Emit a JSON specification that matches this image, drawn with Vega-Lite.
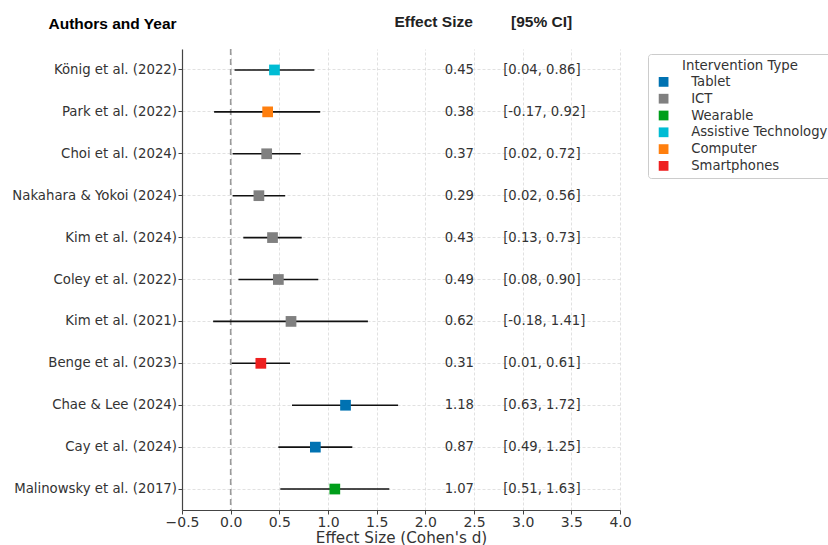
{
  "$schema": "https://vega.github.io/schema/vega-lite/v6.json",
  "autosize": {"type": "none"},
  "padding": {"left": 182, "top": 49, "right": 208, "bottom": 35},
  "width": 438,
  "height": 461,
  "background": "white",
  "config": {
    "font": "DejaVu Sans",
    "view": {"stroke": null},
    "axis": {"labelFont": "DejaVu Sans", "titleFont": "DejaVu Sans", "labelColor": "#333", "titleColor": "#333", "domainColor": "#444", "tickColor": "#444", "gridColor": "#d9d9d9", "gridDash": [3, 2], "gridWidth": 0.8}
  },
  "data": {"values": [
    {"study": "König et al. (2022)", "d": 0.45, "lo": 0.04, "hi": 0.86, "es": "0.45", "ci": "[0.04, 0.86]", "type": "Assistive Technology"},
    {"study": "Park et al. (2022)", "d": 0.38, "lo": -0.17, "hi": 0.92, "es": "0.38", "ci": "[-0.17, 0.92]", "type": "Computer"},
    {"study": "Choi et al. (2024)", "d": 0.37, "lo": 0.02, "hi": 0.72, "es": "0.37", "ci": "[0.02, 0.72]", "type": "ICT"},
    {"study": "Nakahara & Yokoi (2024)", "d": 0.29, "lo": 0.02, "hi": 0.56, "es": "0.29", "ci": "[0.02, 0.56]", "type": "ICT"},
    {"study": "Kim et al. (2024)", "d": 0.43, "lo": 0.13, "hi": 0.73, "es": "0.43", "ci": "[0.13, 0.73]", "type": "ICT"},
    {"study": "Coley et al. (2022)", "d": 0.49, "lo": 0.08, "hi": 0.90, "es": "0.49", "ci": "[0.08, 0.90]", "type": "ICT"},
    {"study": "Kim et al. (2021)", "d": 0.62, "lo": -0.18, "hi": 1.41, "es": "0.62", "ci": "[-0.18, 1.41]", "type": "ICT"},
    {"study": "Benge et al. (2023)", "d": 0.31, "lo": 0.01, "hi": 0.61, "es": "0.31", "ci": "[0.01, 0.61]", "type": "Smartphones"},
    {"study": "Chae & Lee (2024)", "d": 1.18, "lo": 0.63, "hi": 1.72, "es": "1.18", "ci": "[0.63, 1.72]", "type": "Tablet"},
    {"study": "Cay et al. (2024)", "d": 0.87, "lo": 0.49, "hi": 1.25, "es": "0.87", "ci": "[0.49, 1.25]", "type": "Tablet"},
    {"study": "Malinowsky et al. (2017)", "d": 1.07, "lo": 0.51, "hi": 1.63, "es": "1.07", "ci": "[0.51, 1.63]", "type": "Wearable"}
  ]},
  "encoding": {
    "y": {"field": "study", "type": "nominal", "sort": null,
      "scale": {"type": "band", "paddingInner": 0, "paddingOuter": 0},
      "axis": {"title": "Authors and Year", "titleAngle": 0, "titleAlign": "left", "titleBaseline": "middle", "titleX": -134, "titleY": -26, "titleFontSize": 15.5, "titleFontWeight": "bold", "titleColor": "#000", "titleFont": "Liberation Sans", "labelFontSize": 13.3, "labelPadding": 1.5, "tickSize": 4, "grid": true, "domainWidth": 1.2}
    }
  },
  "layer": [
    {
      "mark": {"type": "rule", "color": "#999", "strokeDash": [6, 4], "strokeWidth": 1.6},
      "data": {"values": [{"z": 0}]},
      "encoding": {
        "x": {"field": "z", "type": "quantitative", "scale": {"domain": [-0.5, 4.0], "nice": false, "zero": false},
          "axis": {"orient": "bottom", "title": "Effect Size (Cohen's d)", "titleFontSize": 15.2, "titleFontWeight": "normal", "titlePadding": 1, "labelFontSize": 14, "labelOverlap": false, "labelFlush": false, "labelBound": false, "format": ".1f", "values": [-0.5, 0, 0.5, 1, 1.5, 2, 2.5, 3, 3.5, 4], "tickSize": 4, "labelPadding": 1, "grid": true, "domainWidth": 1.2}},
        "y": null
      }
    },
    {
      "mark": {"type": "rule", "color": "#111", "strokeWidth": 1.6},
      "encoding": {
        "x": {"field": "lo", "type": "quantitative", "axis": null},
        "x2": {"field": "hi"}
      }
    },
    {
      "mark": {"type": "square", "size": 115, "opacity": 1, "filled": true},
      "encoding": {
        "x": {"field": "d", "type": "quantitative", "axis": null},
        "color": {"field": "type", "type": "nominal",
          "scale": {"domain": ["Tablet", "ICT", "Wearable", "Assistive Technology", "Computer", "Smartphones"], "range": ["#0072b2", "#808080", "#009e1a", "#00bcd4", "#ff7f0e", "#ee2020"]},
          "legend": {"title": "Intervention Type", "orient": "none", "legendX": 466, "legendY": 5, "titleFontWeight": "normal", "titleFontSize": 13.3, "titleColor": "#333", "titleAnchor": "middle", "titlePadding": 3, "labelFontSize": 13.2, "labelColor": "#333", "symbolType": "square", "symbolSize": 95, "symbolOffset": 4, "labelOffset": 21, "rowPadding": 2.8, "strokeColor": "#ccc", "padding": 5, "cornerRadius": 3, "fillColor": "white"}}
      }
    },
    {
      "mark": {"type": "text", "align": "right", "baseline": "middle", "fontSize": 13.2, "color": "#333"},
      "encoding": {
        "x": {"datum": 2.5, "type": "quantitative", "axis": null},
        "text": {"field": "es"}
      }
    },
    {
      "mark": {"type": "text", "align": "left", "baseline": "middle", "fontSize": 13.2, "color": "#333"},
      "encoding": {
        "x": {"datum": 2.8, "type": "quantitative", "axis": null},
        "text": {"field": "ci"}
      }
    },
    {
      "mark": {"type": "point", "opacity": 0},
      "data": {"values": [{"h": 2.08}, {"h": 3.19}]},
      "encoding": {
        "x": {"field": "h", "type": "quantitative",
          "axis": {"orient": "top", "values": [2.08, 3.19], "labelExpr": "datum.value < 2.5 ? 'Effect Size' : '[95% CI]'", "labelFont": "Liberation Sans", "labelFontWeight": "bold", "labelFontSize": 15.5, "labelColor": "#222", "domain": false, "ticks": false, "grid": false, "labelPadding": 20, "title": null}},
        "y": null
      }
    }
  ],
  "resolve": {"axis": {"x": "independent"}}
}
